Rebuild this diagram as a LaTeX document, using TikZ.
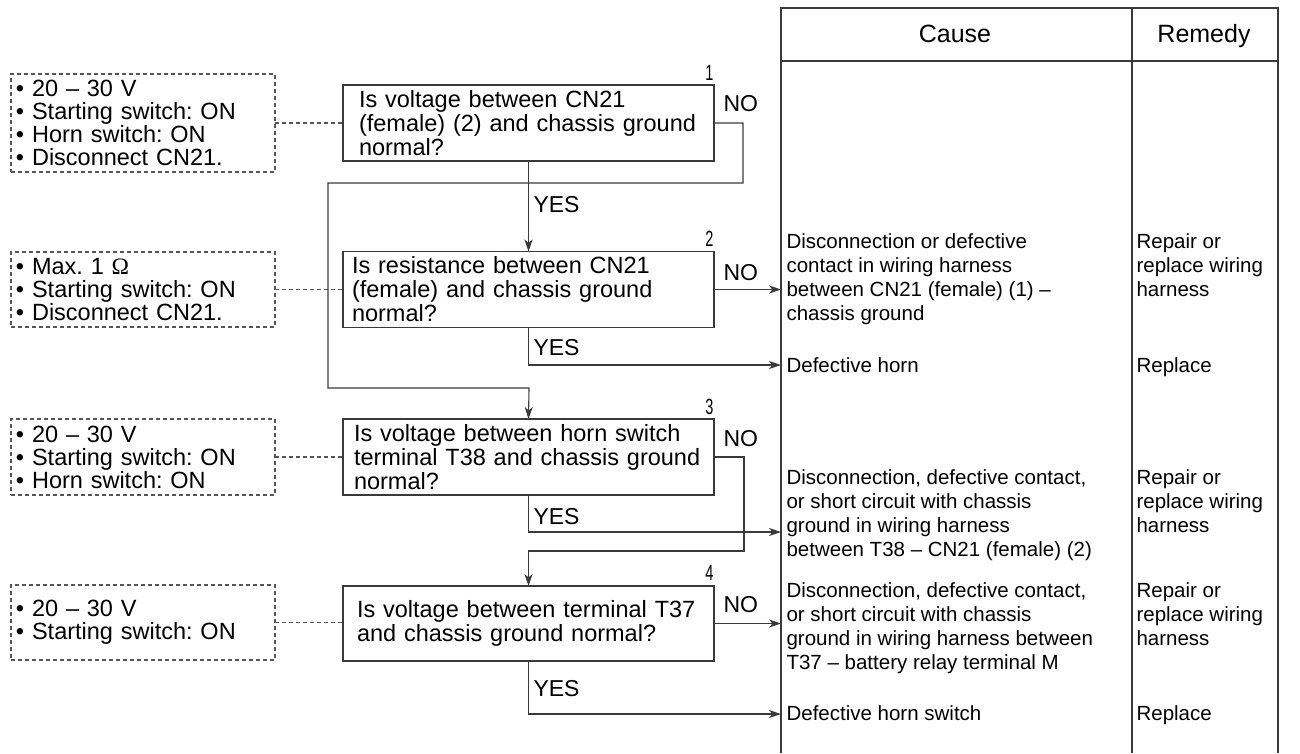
\documentclass[tikz,border=0pt]{standalone}
\usepackage{fontspec}
\setmainfont{Liberation Sans}
\newfontfamily\greekserif{Liberation Serif}
\usepackage{graphicx}
\usetikzlibrary{arrows.meta}
\definecolor{linegray}{HTML}{3A3A3A}
\definecolor{dashgray}{HTML}{555555}
\frenchspacing

\begin{document}
\begin{tikzpicture}[x=1pt,y=-1pt,
  line width=1.1pt,
  qbox/.style={draw=linegray, rectangle, outer sep=0pt, minimum width=371pt,
    minimum height=76pt, inner xsep=0pt, inner ysep=0pt, text width=371pt,
    align=left, font=\fontsize{23.5}{24}\selectfont},
  condbox/.style={draw=dashgray, dash pattern=on 4pt off 3pt, rectangle,
    outer sep=0pt, minimum width=264pt, inner xsep=5pt, inner ysep=0pt,
    text width=254pt, align=left, font=\fontsize{23.5}{23}\selectfont},
  numlbl/.style={anchor=south east, inner sep=0pt, font=\fontsize{22}{22}\selectfont},
  answer/.style={anchor=base west, inner sep=0pt, font=\fontsize{23}{23}\selectfont},
  celltext/.style={anchor=base west, inner sep=0pt, align=left,
    font=\fontsize{20.5}{24}\selectfont},
  headtext/.style={anchor=base, inner sep=0pt, font=\fontsize{25}{25}\selectfont},
  flow/.style={draw=linegray, line width=1.1pt},
  arrowflow/.style={flow, -{Stealth[length=12pt,width=8pt,inset=3.5pt]}},
  link/.style={draw=dashgray, line width=1.1pt, dash pattern=on 4pt off 3pt},
  tableline/.style={draw=linegray, line width=1.1pt}
]
\useasboundingbox (0,0) rectangle (1300,753);

% ---- cause / remedy table ----
\draw[tableline] (781,753) -- (781,8) -- (1278,8) -- (1278,753);
\draw[tableline] (1132,8) -- (1132,753);
\draw[tableline] (781,61) -- (1278,61);
\node[headtext] (hcause) at (955,42) {Cause};
\node[headtext] (hremedy) at (1204,42) {Remedy};

% ---- check boxes (left padding set by \leftskip) ----
\node[qbox] (q1) at (528.5,123)
  {\leftskip=16pt Is voltage between CN21\\(female) (2) and chassis ground\\normal?\par};
\node[qbox] (q2) at (528.5,289.5)
  {\leftskip=9pt Is resistance between CN21\\(female) and chassis ground\\normal?\par};
\node[qbox] (q3) at (528.5,457)
  {\leftskip=11pt Is voltage between horn switch\\terminal T38 and chassis ground\\normal?\par};
\node[qbox, minimum height=75pt] (q4) at (528.5,623.5)
  {\leftskip=14pt Is voltage between terminal T37\\and chassis ground normal?\par};

\node[numlbl] (n1) at ([yshift=4pt]q1.north east) {\scalebox{0.66}[1]{1}};
\node[numlbl] (n2) at ([yshift=4pt]q2.north east) {\scalebox{0.66}[1]{2}};
\node[numlbl] (n3) at ([yshift=4pt]q3.north east) {\scalebox{0.66}[1]{3}};
\node[numlbl] (n4) at ([yshift=5pt]q4.north east) {\scalebox{0.66}[1]{4}};

% ---- measuring conditions ----
\node[condbox, minimum height=98pt] (cA) at (143,123)
  {• 20 – 30 V\\• Starting switch: ON\\• Horn switch: ON\\• Disconnect CN21.};
\node[condbox, minimum height=75pt] (cB) at (143,289.5)
  {• Max. 1 {\greekserif Ω}\\• Starting switch: ON\\• Disconnect CN21.\par\vskip 12pt};
\node[condbox, minimum height=76pt] (cC) at (143,457)
  {• 20 – 30 V\\• Starting switch: ON\\• Horn switch: ON};
\node[condbox, minimum height=75pt] (cD) at (143,622.5)
  {• 20 – 30 V\\• Starting switch: ON};

\draw[link] (cA.east) -- (cA.east -| q1.west);
\draw[link] (cB.east) -- (cB.east -| q2.west);
\draw[link] (cC.east) -- (cC.east -| q3.west);
\draw[link] (cD.east) -- (cD.east -| q4.west);

% ---- causes and remedies (anchored on the last line's baseline) ----
\node[celltext] (k2) at (786,320)
  {Disconnection or defective\\contact in wiring harness\\between CN21 (female) (1) –\\chassis ground};
\node[celltext] (r2) at (1136,296) {Repair or\\replace wiring\\harness};
\node[celltext] (k2y) at (786,372) {Defective horn};
\node[celltext] (r2y) at (1136,372) {Replace};
\node[celltext] (k3) at (786,556)
  {Disconnection, defective contact,\\or short circuit with chassis\\ground in wiring harness\\between T38 – CN21 (female) (2)};
\node[celltext] (r3) at (1136,532) {Repair or\\replace wiring\\harness};
\node[celltext] (k4) at (786,669)
  {Disconnection, defective contact,\\or short circuit with chassis\\ground in wiring harness between\\T37 – battery relay terminal M};
\node[celltext] (r4) at (1136,645) {Repair or\\replace wiring\\harness};
\node[celltext] (k4y) at (786,720) {Defective horn switch};
\node[celltext] (r4y) at (1136,720) {Replace};

% arrow end points on the table edge
\coordinate (e2n) at (781,289.5);
\coordinate (e2y) at (781,365);
\coordinate (e3y) at (781,532);
\coordinate (e4n) at (781,623.5);
\coordinate (e4y) at (781,714);

% ---- flow ----
\draw[arrowflow] (q1.south) -- (q2.north);
\draw[arrowflow] (q1.east) -- ++(29,0) |- (328,183) |- (529,388) -- (q3.north);
\draw[arrowflow] (q2.east) -- (e2n);
\draw[arrowflow] (q2.south) |- (e2y);
\draw[arrowflow] (q3.east) -- ++(30,0) |- (528.5,551) -- (q4.north);
\draw[arrowflow] (q3.south) |- (e3y);
\draw[arrowflow] (q4.east) -- (e4n);
\draw[arrowflow] (q4.south) |- (e4y);

\node[answer] (y1) at (533,212) {YES};
\node[answer] (y2) at (533,355) {YES};
\node[answer] (y3) at (533,524) {YES};
\node[answer] (y4) at (533,696) {YES};
\node[answer] (no1) at (723,111) {NO};
\node[answer] (no2) at (723,280) {NO};
\node[answer] (no3) at (723,446) {NO};
\node[answer] (no4) at (723,612) {NO};
\end{tikzpicture}
\end{document}
